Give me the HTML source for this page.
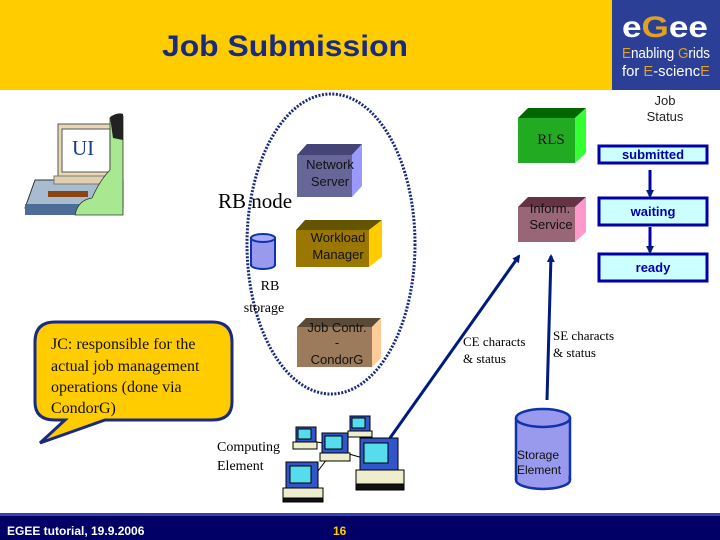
<!DOCTYPE html>
<html><head><meta charset="utf-8"><style>
html,body{margin:0;padding:0;width:720px;height:540px;overflow:hidden;background:#fff}
svg text{font-family:"Liberation Sans",sans-serif}
.s{font-family:"Liberation Serif",serif}
</style></head><body>
<svg width="720" height="540" viewBox="0 0 720 540" xmlns="http://www.w3.org/2000/svg">
<defs>
<marker id="a" markerWidth="8" markerHeight="8" refX="6" refY="4" orient="auto" markerUnits="userSpaceOnUse"><path d="M0,0 L8,4 L0,8 z" fill="#001a80"/></marker>
</defs>
<!-- header -->
<rect x="0" y="0" width="612" height="90" fill="#FFCC00"/>
<rect x="612" y="0" width="108" height="90" fill="#2B3F96"/>
<text x="285" y="56" font-size="30" font-weight="bold" fill="#1a2a80" text-anchor="middle" textLength="246" lengthAdjust="spacingAndGlyphs">Job Submission</text>
<text x="622" y="37" font-size="30" font-weight="bold" fill="#fff" textLength="86" lengthAdjust="spacingAndGlyphs">e<tspan fill="#E0A020">G</tspan>ee</text>
<text x="622" y="58" font-size="15" fill="#fff" textLength="88" lengthAdjust="spacingAndGlyphs"><tspan fill="#E0A020">E</tspan>nabling <tspan fill="#E0A020">G</tspan>rids</text>
<text x="622" y="76" font-size="15" fill="#fff" textLength="88" lengthAdjust="spacingAndGlyphs">for <tspan fill="#E0A020">E</tspan>-scienc<tspan fill="#E0A020">E</tspan></text>
<!-- footer -->
<rect x="0" y="513" width="720" height="27" fill="#000066"/>
<rect x="0" y="513" width="720" height="3" fill="#3344aa"/>
<text x="7" y="535" font-size="12" font-weight="bold" fill="#fff">EGEE tutorial, 19.9.2006</text>
<text x="333" y="535" font-size="12" font-weight="bold" fill="#FFCC00">16</text>
<!-- UI -->
<polygon points="35,180 123,180 123,208 25,208" fill="#a8bcd0" stroke="#333" stroke-width="1"/>
<rect x="25" y="204" width="98" height="11" fill="#4d6d99"/>
<rect x="48" y="191" width="40" height="6" fill="#8B4513"/>
<rect x="58" y="124" width="56" height="54" fill="#e8d8b8" stroke="#555"/>
<rect x="62" y="129" width="48" height="43" fill="#fff" stroke="#555"/>
<text x="72" y="155" class="s" font-size="21" fill="#1a3a8a">UI</text>
<rect x="54" y="176" width="60" height="8" fill="#e0d0b0" stroke="#777"/>
<path d="M110,118 Q116,114 123,116 L123,215 L75,215 Q78,200 92,198 Q100,180 110,170 Z" fill="#a8e890" stroke="#333" stroke-width="0.8"/>
<path d="M110,117 Q118,112 123,114 L123,140 L113,138 Z" fill="#222"/>
<!-- ellipse -->
<ellipse cx="331" cy="244" rx="84" ry="150" fill="none" stroke="#1a2a80" stroke-width="3" stroke-dasharray="2,1.5"/>
<!-- Network server -->
<polygon points="297,155 307,144 362,144 352,155" fill="#444477"/>
<polygon points="352,155 362,144 362,186 352,197" fill="#9999FF"/>
<rect x="297" y="155" width="55" height="42" fill="#666699"/>
<text x="330" y="169" font-size="13" fill="#111" text-anchor="middle">Network</text>
<text x="330" y="186" font-size="13" fill="#111" text-anchor="middle">Server</text>
<text x="218" y="208" class="s" font-size="21" fill="#000">RB node</text>
<!-- Workload -->
<polygon points="296,230 305,220 382,220 369,230" fill="#665500"/>
<polygon points="369,230 382,220 382,257 369,267" fill="#FFCC00"/>
<rect x="296" y="230" width="73" height="37" fill="#997700"/>
<text x="338" y="242" font-size="13" fill="#111" text-anchor="middle">Workload</text>
<text x="338" y="259" font-size="13" fill="#111" text-anchor="middle">Manager</text>
<!-- RB storage -->
<rect x="251" y="238" width="24" height="27" fill="#9999ee" stroke="#1133aa" stroke-width="2"/>
<ellipse cx="263" cy="265" rx="12" ry="4" fill="#9999ee" stroke="#1133aa" stroke-width="2"/>
<rect x="252" y="240" width="22" height="24" fill="#9999ee"/>
<ellipse cx="263" cy="238" rx="12" ry="4" fill="#aaaaff" stroke="#1133aa" stroke-width="2"/>
<text x="270" y="290" class="s" font-size="14" text-anchor="middle">RB</text>
<text x="264" y="312" class="s" font-size="14" text-anchor="middle">storage</text>
<!-- Job Contr -->
<polygon points="297,327 306,318 381,318 372,327" fill="#5c4a38"/>
<polygon points="372,327 381,318 381,358 372,367" fill="#FFCC99"/>
<rect x="297" y="327" width="75" height="40" fill="#9C7B5C"/>
<text x="337" y="332" font-size="13" fill="#111" text-anchor="middle">Job Contr.</text>
<text x="337" y="347" font-size="13" fill="#111" text-anchor="middle">-</text>
<text x="337" y="364" font-size="13" fill="#111" text-anchor="middle">CondorG</text>
<!-- RLS -->
<polygon points="518,118 528,108 586,108 575,118" fill="#006600"/>
<polygon points="575,118 586,108 586,153 575,163" fill="#33FF33"/>
<rect x="518" y="118" width="57" height="45" fill="#22AA22"/>
<text x="551" y="144" class="s" font-size="15" fill="#111" text-anchor="middle">RLS</text>
<!-- Inform -->
<polygon points="518,207 528,197 586,197 575,207" fill="#663344"/>
<polygon points="575,207 586,197 586,232 575,242" fill="#FF99CC"/>
<rect x="518" y="207" width="57" height="35" fill="#996677"/>
<text x="550" y="213" font-size="13" fill="#111" text-anchor="middle">Inform.</text>
<text x="551" y="229" font-size="13" fill="#111" text-anchor="middle">Service</text>
<!-- Job status -->
<text x="665" y="105" font-size="13" fill="#222" text-anchor="middle">Job</text>
<text x="665" y="121" font-size="13" fill="#222" text-anchor="middle">Status</text>
<rect x="599" y="146" width="108" height="17" fill="#CCFFFF" stroke="#0000AA" stroke-width="3"/>
<text x="653" y="159" font-size="13" font-weight="bold" fill="#0000AA" text-anchor="middle">submitted</text>
<rect x="599" y="198" width="108" height="27" fill="#CCFFFF" stroke="#0000AA" stroke-width="3"/>
<text x="653" y="216" font-size="13" font-weight="bold" fill="#0000AA" text-anchor="middle">waiting</text>
<rect x="599" y="254" width="108" height="27" fill="#CCFFFF" stroke="#0000AA" stroke-width="3"/>
<text x="653" y="272" font-size="13" font-weight="bold" fill="#0000AA" text-anchor="middle">ready</text>
<line x1="650" y1="170" x2="650" y2="196" stroke="#0000AA" stroke-width="3" marker-end="url(#a)"/>
<line x1="650" y1="227" x2="650" y2="252" stroke="#0000AA" stroke-width="3" marker-end="url(#a)"/>
<!-- connectors -->
<line x1="390" y1="438" x2="519" y2="256" stroke="#001a80" stroke-width="3" marker-end="url(#a)"/>
<line x1="547" y1="400" x2="551" y2="256" stroke="#001a80" stroke-width="3" marker-end="url(#a)"/>
<text x="463" y="346" class="s" font-size="13">CE characts</text>
<text x="463" y="363" class="s" font-size="13">&amp; status</text>
<text x="553" y="340" class="s" font-size="13">SE characts</text>
<text x="553" y="357" class="s" font-size="13">&amp; status</text>
<!-- Storage element -->
<rect x="516" y="418" width="54" height="62" fill="#9999ee"/>
<ellipse cx="543" cy="480" rx="27" ry="9" fill="#9999ee" stroke="#1133aa" stroke-width="2.5"/>
<line x1="516" y1="418" x2="516" y2="480" stroke="#1133aa" stroke-width="2.5"/>
<line x1="570" y1="418" x2="570" y2="480" stroke="#1133aa" stroke-width="2.5"/>
<rect x="517.5" y="420" width="51" height="59" fill="#9999ee"/>
<ellipse cx="543" cy="418" rx="27" ry="9" fill="#9999ee" stroke="#1133aa" stroke-width="2.5"/>
<text x="517" y="459" font-size="12" fill="#111">Storage</text>
<text x="517" y="474" font-size="12" fill="#111">Element</text>
<!-- Computing element -->
<text x="217" y="451" class="s" font-size="14">Computing</text>
<text x="217" y="470" class="s" font-size="14">Element</text>
<g stroke="#000" stroke-width="1">
<line x1="305" y1="440" x2="335" y2="445"/><line x1="330" y1="445" x2="365" y2="425"/><line x1="335" y1="450" x2="370" y2="460"/><line x1="330" y1="455" x2="315" y2="475"/>
<rect x="296" y="427" width="20" height="15" fill="#3355cc"/><rect x="298" y="429" width="13" height="10" fill="#55ddee"/><rect x="293" y="442" width="24" height="7" fill="#eeeecc"/>
<rect x="322" y="433" width="26" height="20" fill="#3355cc"/><rect x="325" y="436" width="17" height="13" fill="#55ddee"/><rect x="320" y="453" width="30" height="8" fill="#eeeecc"/>
<rect x="350" y="416" width="20" height="15" fill="#3355cc"/><rect x="352" y="418" width="13" height="10" fill="#55ddee"/><rect x="348" y="431" width="24" height="6" fill="#eeeecc"/>
<rect x="360" y="438" width="38" height="32" fill="#3355cc"/><rect x="364" y="443" width="24" height="20" fill="#55ddee"/><rect x="356" y="470" width="48" height="14" fill="#eeeecc"/><rect x="356" y="484" width="48" height="6" fill="#111"/>
<rect x="286" y="462" width="32" height="26" fill="#3355cc"/><rect x="290" y="466" width="21" height="17" fill="#55ddee"/><rect x="283" y="488" width="40" height="10" fill="#eeeecc"/><rect x="283" y="498" width="40" height="4" fill="#111"/>
</g>
<!-- callout -->
<path d="M55,322 L212,322 Q232,322 232,342 L232,402 Q232,420 212,420 L105,420 L40,443 L65,420 L55,420 Q35,420 35,402 L35,342 Q35,322 55,322 Z" fill="#FFCC00" stroke="#1a2a80" stroke-width="3"/>
<text class="s" font-size="16" fill="#111"><tspan x="51" y="349">JC: responsible for the</tspan><tspan x="51" y="371">actual job management</tspan><tspan x="51" y="392">operations (done via</tspan><tspan x="51" y="413">CondorG)</tspan></text>
</svg>
</body></html>
